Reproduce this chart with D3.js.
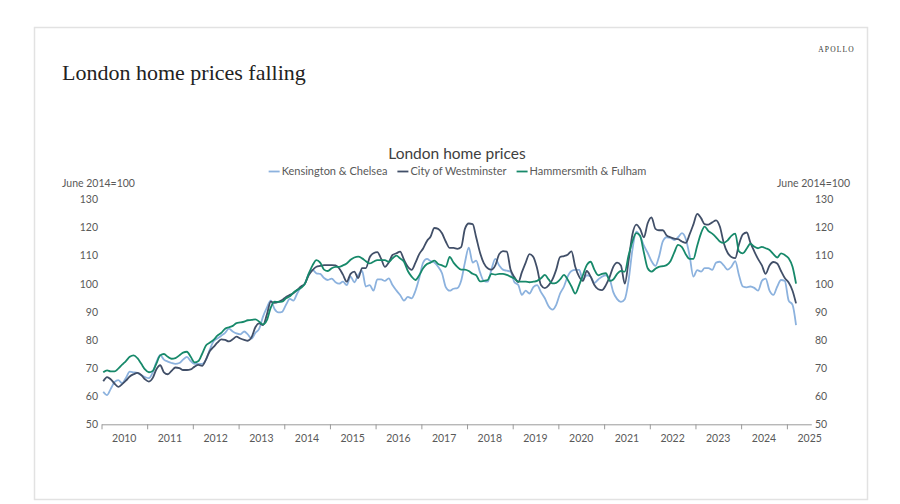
<!DOCTYPE html>
<html>
<head>
<meta charset="utf-8">
<script src="https://cdn.jsdelivr.net/npm/d3@7/dist/d3.min.js"></script>
<style>
  body { margin: 0; background: #fff; }
  svg { display: block; }
</style>
</head>
<body>
<svg id="chart" width="900" height="504"></svg>
<script>
// ---------------- DATA (monthly, Jan 2010 – Mar 2025, June 2014 = 100) ----------------
const seriesNames = ["Kensington & Chelsea", "City of Westminster", "Hammersmith & Fulham"];
const startYear = 2010;

const kensington = [
  61.6, 60.4, 62.5, 65, 65.7, 64.6, 66.5, 68.7, 68.5, 68.3, 67.5, 66.8,
  66.4, 68.5, 72, 74.6, 73, 72.3, 71.8, 71.5, 71.8, 73, 74, 72.5,
  71.5, 71.5, 71.5, 73, 76.5, 79.5, 80.5, 81.5, 82.5, 84, 83, 82.3,
  82, 83, 82, 80.5, 82.5, 84, 88.3, 91.5, 94, 91, 89.8, 90,
  92.5, 94.6, 94, 96.6, 98.8, 100, 103.5, 104.9, 103.7, 103.5, 102, 101.3,
  101.8, 100.5, 100, 100.7, 99.5, 102.5, 100.5, 103, 104.5, 99, 99.5, 97.5,
  101.5, 101.5, 101, 101.9, 99.5, 97.6, 96, 94, 95.3, 94.8, 97.5, 102,
  107.5, 108.8, 108, 107.5, 106, 103.7, 98.8, 97.5, 98.2, 98.4, 101, 107.5,
  112.8, 107.5, 108.2, 104, 101, 100.7, 105, 108.8, 106.5, 105, 104.6, 104.3,
  100.5, 99.5, 96, 97.5, 96.5, 98.8, 99.5, 97, 94.8, 92, 90.8, 92.5,
  96.5, 99, 102.5, 104.5, 104.9, 104.9, 101.5, 103, 102.5, 100.3, 101.5, 102.5,
  103, 101.5, 97, 94.5, 93.5, 94.5, 101, 112, 118.5, 117, 113.5, 111,
  108, 106.3, 109.5, 115, 116.5, 116.3, 115.5, 116.5, 118, 116, 110, 102.5,
  104.8, 104.3, 105.5, 105.5, 104.9, 107.5, 107.8, 106.5, 105, 106, 108, 103,
  99, 98.7, 99, 98.5, 97.5, 101, 101.8, 97.5, 96, 98.9, 101.3, 101,
  94, 92.5, 85.3
];

const westminster = [
  65.3, 66.8, 66, 64.5, 63.3, 64.3, 65.5, 67, 67.8, 68.3, 67.5, 66,
  65.2, 66.5, 69.5, 71, 68.5, 67.8, 69, 70.2, 70, 69.3, 69.3, 69.5,
  70.5, 71.1, 70.8, 73, 76, 77.5, 79, 80.2, 80, 79.5, 80.2, 81.2,
  80.5, 80, 79.7, 81, 84.5, 85.9, 85.3, 89, 93.6, 93.2, 93.5, 94.2,
  95.3, 96, 96.6, 97.8, 99, 100, 103, 104.8, 106, 106.3, 106.6, 106.6,
  106.6, 106.5, 105.5, 103.2, 100.7, 103.5, 104.3, 102, 105.5, 105.5, 109.4, 110.8,
  111.2, 108.8, 106, 107.5, 110.2, 110.8, 111.4, 108.5, 106, 104.9, 107.5, 110.5,
  112.5, 115.2, 116.7, 119.8, 119.5, 117.9, 115, 112.7, 112.7, 112.4, 113, 119.5,
  121.4, 121.2, 116.5, 111, 107.3, 105.5, 105, 106.5, 110.5, 111.6, 111.4, 105,
  102.3, 100.6, 104, 107.5, 110.5, 109.5, 105.5, 99.5, 98.4, 99.4, 101.5, 105,
  109.5, 109.8, 110.3, 111.5, 106, 102.5, 101, 104.5, 102.5, 99.5, 98, 97.7,
  99.5, 102.5, 106, 107.5, 106.5, 100, 108, 117.5, 121, 119.5, 116.5, 121.5,
  123.6, 119.5, 119, 119, 117.2, 116.5, 116, 115.8, 115, 114.5, 117.5, 121,
  124.8, 123.3, 121.2, 121, 121.8, 122.5, 120.3, 114.5, 111, 109.5, 109.1, 114,
  117.5, 118.2, 114.6, 111.5, 108.8, 106.5, 103.5, 106.5, 107.7, 107.2, 104.5, 102,
  100.4, 97.5, 93
];

const hammersmith = [
  68.5, 69.2, 68.8, 68.8, 69.8, 71.2, 72.5, 74, 74.5, 73.5, 71.5, 69.5,
  68.5, 69, 71.5, 74.5, 75, 74, 73.3, 73.5, 74.5, 75.5, 75.8, 74,
  72, 72.5, 75, 78, 79, 80, 81.5, 82.5, 84, 84.5, 85, 86,
  86.2, 86.5, 87, 87.1, 87.3, 86.5, 85.5, 87, 91.5, 93.6, 93.5, 93.6,
  94.8, 95.5, 96.8, 97.8, 98.5, 100, 103.5, 106.5, 108.4, 107.5, 105, 104.5,
  105.5, 106, 106, 106.5, 107.2, 108.5, 109.3, 109.6, 109, 108, 107.2, 107.8,
  108.4, 108.4, 108.4, 107.8, 109, 110, 109, 107.8, 104.5, 102.5, 101.3, 103,
  105.5, 107, 107.5, 108.2, 107, 106.5, 106, 109.5, 107.5, 106, 105, 105,
  104.5, 103.5, 103, 100.8, 101, 101.3, 103.5, 103.2, 103.5, 103.5, 103.1, 102.5,
  101.8, 100.7, 100.7, 100.7, 100.5, 100.7, 101, 101.9, 103.1, 101.5, 100.1, 100.3,
  101.5, 103.1, 101.5, 99, 96.5, 99.5, 103, 106.6, 107.8, 105, 103, 103.5,
  103.7, 101, 101.5, 103.5, 104.5, 104.3, 110, 115, 118, 117, 111, 105.5,
  104.3, 105.3, 106, 106.2, 106.6, 108, 111, 113.8, 113, 110.5, 108.8, 108.8,
  113.5, 118, 120.3, 118.7, 117.8, 116.5, 115, 114.5, 115.4, 117, 117.8, 111.5,
  110.8, 112.5, 114.2, 113.2, 112.6, 113.1, 112.6, 112, 110.5, 109.3, 110.8, 110.2,
  109, 106, 100
];

const yTicks = [50, 60, 70, 80, 90, 100, 110, 120, 130];
const yearLabels = [2010, 2011, 2012, 2013, 2014, 2015, 2016, 2017, 2018, 2019, 2020, 2021, 2022, 2023, 2024, 2025];
const unitLabel = "June 2014=100";
const chartTitle = "London home prices";
const pageTitle = "London home prices falling";
const brand = "APOLLO";

const colors = ["#8cb2de", "#414f68", "#17896a"];

// ---------------- DRAW ----------------
const svg = d3.select("#chart");
const font = "Lato, 'Open Sans', sans-serif";
const serif = "'Liberation Serif', 'DejaVu Serif', serif";
const tickColor = "#595959";

svg.append("rect").attr("width", 900).attr("height", 504).attr("fill", "#fff");
svg.append("rect")
  .attr("x", 34.5).attr("y", 27.5).attr("width", 833).attr("height", 472)
  .attr("fill", "none").attr("stroke", "#e2e2e2").attr("stroke-width", 1.5);

svg.append("text").attr("x", 855).attr("y", 52).attr("text-anchor", "end")
  .attr("font-family", serif).attr("font-size", 7.5).attr("letter-spacing", 1.2)
  .attr("fill", "#333").text(brand);

svg.append("text").attr("x", 62).attr("y", 80)
  .attr("font-family", serif).attr("font-size", 22).attr("fill", "#222").text(pageTitle);

// scales
const x = d3.scaleTime()
  .domain([new Date(2010, 0, 1), new Date(2025, 6, 15)])
  .range([101.5, 811.3]);
const y = d3.scaleLinear().domain([50, 130]).range([424.3, 199.3]);

const dates = kensington.map((_, i) => new Date(startYear, i, 15));
const allSeries = [kensington, westminster, hammersmith];

// x axis
const xAxis = d3.axisBottom(x)
  .tickValues(yearLabels.map(yr => new Date(yr, 0, 1)))
  .tickFormat("")
  .tickSize(5)
  .tickSizeOuter(0);
const gx = svg.append("g").attr("transform", "translate(0,424.3)").call(xAxis);
gx.select(".domain").attr("stroke", "#9a9a9a");
gx.selectAll(".tick line").attr("stroke", "#9a9a9a");

svg.append("g").selectAll("text").data(yearLabels).join("text")
  .attr("x", d => x(new Date(d, 6, 2)))
  .attr("y", 441.5)
  .attr("text-anchor", "middle")
  .attr("font-family", font).attr("font-size", 10.5).attr("fill", tickColor)
  .text(d => d);

// y axes
const gyl = svg.append("g").attr("transform", "translate(98,0)")
  .call(d3.axisLeft(y).tickValues(yTicks).tickSize(0).tickPadding(0));
const gyr = svg.append("g").attr("transform", "translate(815,0)")
  .call(d3.axisRight(y).tickValues(yTicks).tickSize(0).tickPadding(0));
[gyl, gyr].forEach(g => {
  g.select(".domain").remove();
  g.attr("font-family", font).attr("font-size", 10.5);
  g.selectAll("text").attr("fill", tickColor);
});

svg.append("text").attr("x", 62).attr("y", 186.5)
  .attr("font-family", font).attr("font-size", 10.5).attr("fill", tickColor).text(unitLabel);
svg.append("text").attr("x", 850).attr("y", 186.5).attr("text-anchor", "end")
  .attr("font-family", font).attr("font-size", 10.5).attr("fill", tickColor).text(unitLabel);

// lines
const line = d3.line()
  .x((d, i) => x(dates[i]))
  .y(d => y(d))
  .curve(d3.curveMonotoneX);

svg.append("g").selectAll("path").data(allSeries).join("path")
  .attr("d", d => line(d))
  .attr("fill", "none")
  .attr("stroke", (d, i) => colors[i])
  .attr("stroke-width", 1.8)
  .attr("stroke-linejoin", "round");

// chart title
svg.append("text").attr("x", 457).attr("y", 158.5).attr("text-anchor", "middle")
  .attr("font-family", font).attr("font-size", 15.5).attr("fill", "#404040").text(chartTitle);

// legend
const lg = svg.append("g");
const items = lg.selectAll("g").data(seriesNames).join("g");
items.append("line").attr("x1", 0).attr("x2", 11).attr("y1", 0).attr("y2", 0)
  .attr("stroke", (d, i) => colors[i]).attr("stroke-width", 1.8);
items.append("text").attr("x", 13).attr("y", 3.9)
  .attr("font-family", font).attr("font-size", 11).attr("fill", tickColor).text(d => d);
let cursor = 0;
const offsets = [];
items.each(function () {
  const w = d3.select(this).select("text").node().getComputedTextLength();
  offsets.push(cursor);
  cursor += 13 + w + 10;
});
const totalW = cursor - 10;
const startX = 457.5 - totalW / 2;
items.attr("transform", (d, i) => `translate(${startX + offsets[i]},171.5)`);
</script>
</body>
</html>
